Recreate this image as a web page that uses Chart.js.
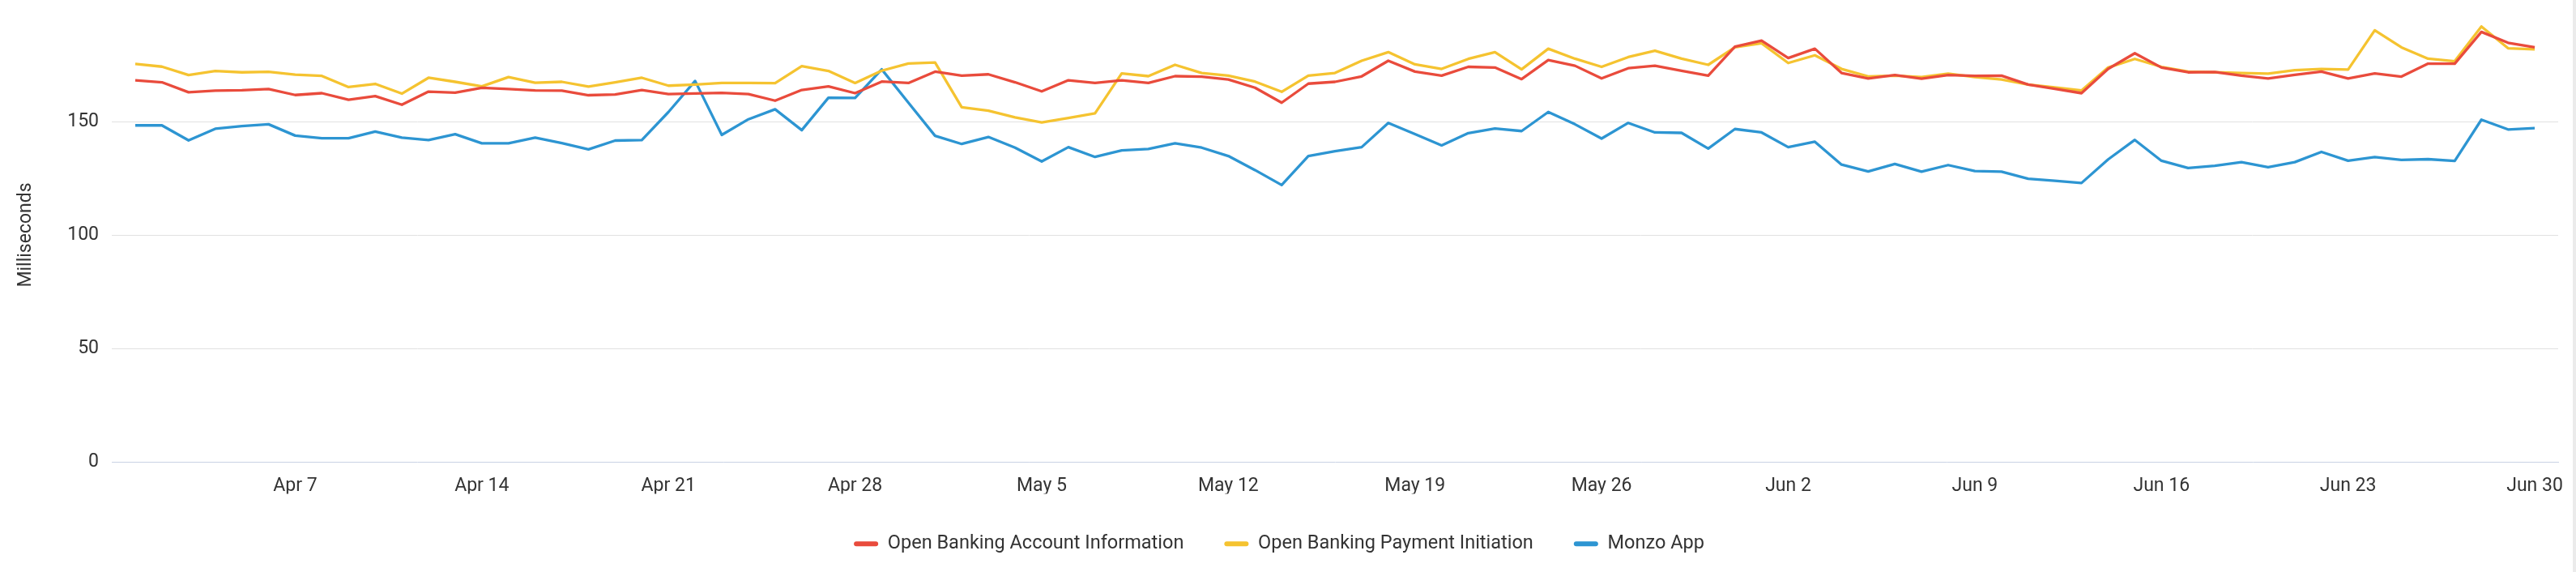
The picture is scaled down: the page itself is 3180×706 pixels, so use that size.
<!DOCTYPE html>
<html>
<head>
<meta charset="utf-8">
<title>Latency</title>
<script src="https://cdn.jsdelivr.net/npm/chart.js@4/dist/chart.umd.min.js"></script>
<style>
  html, body { margin: 0; padding: 0; background: #fff; }
  .wrap { position: relative; width: 3180px; height: 706px; }
  .edge { position: absolute; right: 0; top: 0; width: 4px; height: 706px; background: #ebebeb; }
</style>
</head>
<body>
<div class="wrap">
  <canvas id="Chart" width="3180" height="706"></canvas>
  <div class="edge"></div>
</div>
<script>
"use strict";

// days from Apr 1 to Jun 30
var months = [['Apr', 30], ['May', 31], ['Jun', 30]];
var days = [];
months.forEach(function (m) {
  for (var d = 1; d <= m[1]; d++) days.push(m[0] + ' ' + d);
});

var tickLabels = ['Apr 7', 'Apr 14', 'Apr 21', 'Apr 28', 'May 5', 'May 12', 'May 19',
  'May 26', 'Jun 2', 'Jun 9', 'Jun 16', 'Jun 23', 'Jun 30'];
var yTicks = [0, 50, 100, 150];

var accountInfo = [
  168.2, 167.3, 162.9, 163.6, 163.8, 164.3, 161.7, 162.5, 159.6, 161.2,
  157.4, 163.2, 162.7, 164.9, 164.3, 163.7, 163.6, 161.6, 161.9, 163.9,
  162.1, 162.4, 162.6, 162.1, 159.2, 163.9, 165.5, 162.5, 167.6, 167.0,
  172.0, 170.2, 170.8, 167.3, 163.3, 168.2, 167.0, 168.2, 167.0, 170.0,
  169.8, 168.5, 164.9, 158.3, 166.7, 167.5, 169.9, 176.8, 172.0, 170.2,
  174.1, 173.8, 168.7, 177.1, 174.6, 169.0, 173.5, 174.6, 172.4, 170.2,
  183.0, 185.7, 178.0, 182.1, 171.4, 169.0, 170.5, 168.9, 170.5, 170.1,
  170.2, 166.3, 164.4, 162.5, 173.2, 180.1, 173.8, 171.7, 171.8, 170.2,
  169.0, 170.6, 172.0, 169.0, 171.2, 169.8, 175.5, 175.5, 189.5, 184.7,
  182.7
];
var paymentInit = [
  175.4, 174.2, 170.5, 172.3, 171.7, 171.9, 170.7, 170.1, 165.2, 166.6,
  162.3, 169.3, 167.5, 165.5, 169.6, 167.1, 167.5, 165.4, 167.3, 169.3,
  165.8, 166.3, 167.0, 167.0, 166.9, 174.4, 172.3, 167.0, 172.4, 175.6,
  176.0, 156.3, 154.8, 151.8, 149.6, 151.6, 153.6, 171.2, 170.0, 175.0,
  171.4, 170.2, 167.6, 163.1, 170.2, 171.4, 176.8, 180.6, 175.2, 173.2,
  177.6, 180.6, 173.0, 182.1, 177.7, 174.1, 178.4, 181.2, 177.7, 175.0,
  182.7, 184.5, 175.8, 179.2, 173.2, 169.9, 170.2, 169.6, 171.1, 169.6,
  168.5, 166.3, 165.0, 163.7, 173.8, 177.6, 174.1, 172.0, 171.7, 171.4,
  171.1, 172.6, 173.2, 172.9, 190.2, 182.7, 177.7, 176.6, 191.9, 182.3,
  181.8
];
var monzoApp = [
  148.3, 148.3, 141.7, 146.8, 148.0, 148.8, 143.8, 142.6, 142.6, 145.6,
  142.9, 141.8, 144.4, 140.4, 140.4, 142.9, 140.5, 137.7, 141.6, 141.8,
  154.2, 167.9, 144.1, 151.0, 155.4, 146.2, 160.5, 160.4, 173.0, 158.3,
  143.7, 140.1, 143.2, 138.5, 132.4, 138.7, 134.4, 137.3, 137.9, 140.4,
  138.5, 134.8, 128.6, 122.0, 134.8, 136.9, 138.7, 149.4, 144.5, 139.5,
  144.9, 146.9, 145.8, 154.2, 148.8, 142.5, 149.4, 145.2, 145.0, 138.1,
  146.7, 145.2, 138.7, 141.1, 131.0, 128.0, 131.3, 127.9, 130.8, 128.2,
  127.9, 124.8, 123.9, 122.9, 133.3, 141.9, 132.7, 129.5, 130.5, 132.1,
  129.9, 132.1, 136.6, 132.7, 134.3, 133.1, 133.4, 132.6, 150.8, 146.5,
  147.1
];

var seriesNames = ['Open Banking Account Information', 'Open Banking Payment Initiation', 'Monzo App'];
var seriesColors = ['#E94B3C', '#F5C330', '#2D95D2'];
var textColor = '#333333';

function points(values) {
  return values.map(function (v, i) {
    return { x: i, y: v };
  });
}

function makeSet(i, values) {
  return {
    label: seriesNames[i],
    data: points(values),
    borderColor: seriesColors[i],
    backgroundColor: seriesColors[i],
    borderWidth: 3.3,
    pointRadius: 0,
    pointHoverRadius: 0,
    tension: 0,
    borderJoinStyle: 'round'
  };
}

var ctx = document.getElementById('Chart').getContext('2d');
var chart = new Chart(ctx, {
  type: 'line',
  data: {
    datasets: [
      makeSet(0, accountInfo),
      makeSet(1, paymentInit),
      makeSet(2, monzoApp)
    ]
  },
  options: {
    responsive: false,
    devicePixelRatio: 1,
    animation: false,
    layout: {
      padding: { top: 10, right: 22, bottom: 13, left: 0 }
    },
    font: { family: 'Roboto' },
    scales: {
      x: {
        type: 'linear',
        min: -0.88,
        max: days.length - 1 + 0.88,
        grid: { display: false, drawTicks: false },
        border: { display: true, color: '#c9d2e4', width: 1 },
        afterBuildTicks: function (scale) {
          scale.ticks = tickLabels.map(function (l) {
            return { value: days.indexOf(l) };
          });
        },
        afterFit: function (scale) {
          scale.height = 39.5;
          scale.paddingLeft = 0;
          scale.paddingRight = 0;
        },
        ticks: {
          autoSkip: false,
          maxRotation: 0,
          padding: 16,
          color: textColor,
          font: { family: 'Roboto', size: 23 },
          callback: function (v) {
            return days[v];
          }
        }
      },
      y: {
        min: 0,
        max: 200,
        grid: {
          drawTicks: false,
          lineWidth: 1,
          color: function (c) {
            return c.tick && c.tick.value === 0 ? 'rgba(0,0,0,0)' : '#e1e1e1';
          }
        },
        border: { display: false },
        afterBuildTicks: function (scale) {
          scale.ticks = yTicks.map(function (v) {
            return { value: v };
          });
        },
        afterFit: function (scale) {
          scale.width = 138;
          scale.paddingTop = 0;
          scale.paddingBottom = 0;
        },
        ticks: {
          padding: 16,
          color: textColor,
          font: { family: 'Roboto', size: 23 }
        },
        title: {
          display: true,
          text: 'Milliseconds',
          color: textColor,
          font: { family: 'Roboto', size: 23 },
          padding: { top: 18, bottom: 0 }
        }
      }
    },
    plugins: {
      tooltip: { enabled: false },
      legend: {
        position: 'bottom',
        labels: {
          boxWidth: 30,
          boxHeight: 6,
          useBorderRadius: true,
          borderRadius: 3,
          padding: 50,
          color: textColor,
          font: { family: 'Roboto', size: 23.5 },
          generateLabels: function (chart) {
            var items = Chart.defaults.plugins.legend.labels.generateLabels(chart);
            items.forEach(function (it) {
              it.lineWidth = 0;
              it.fillStyle = it.strokeStyle;
            });
            return items;
          }
        }
      }
    }
  }
});
</script>
</body>
</html>
